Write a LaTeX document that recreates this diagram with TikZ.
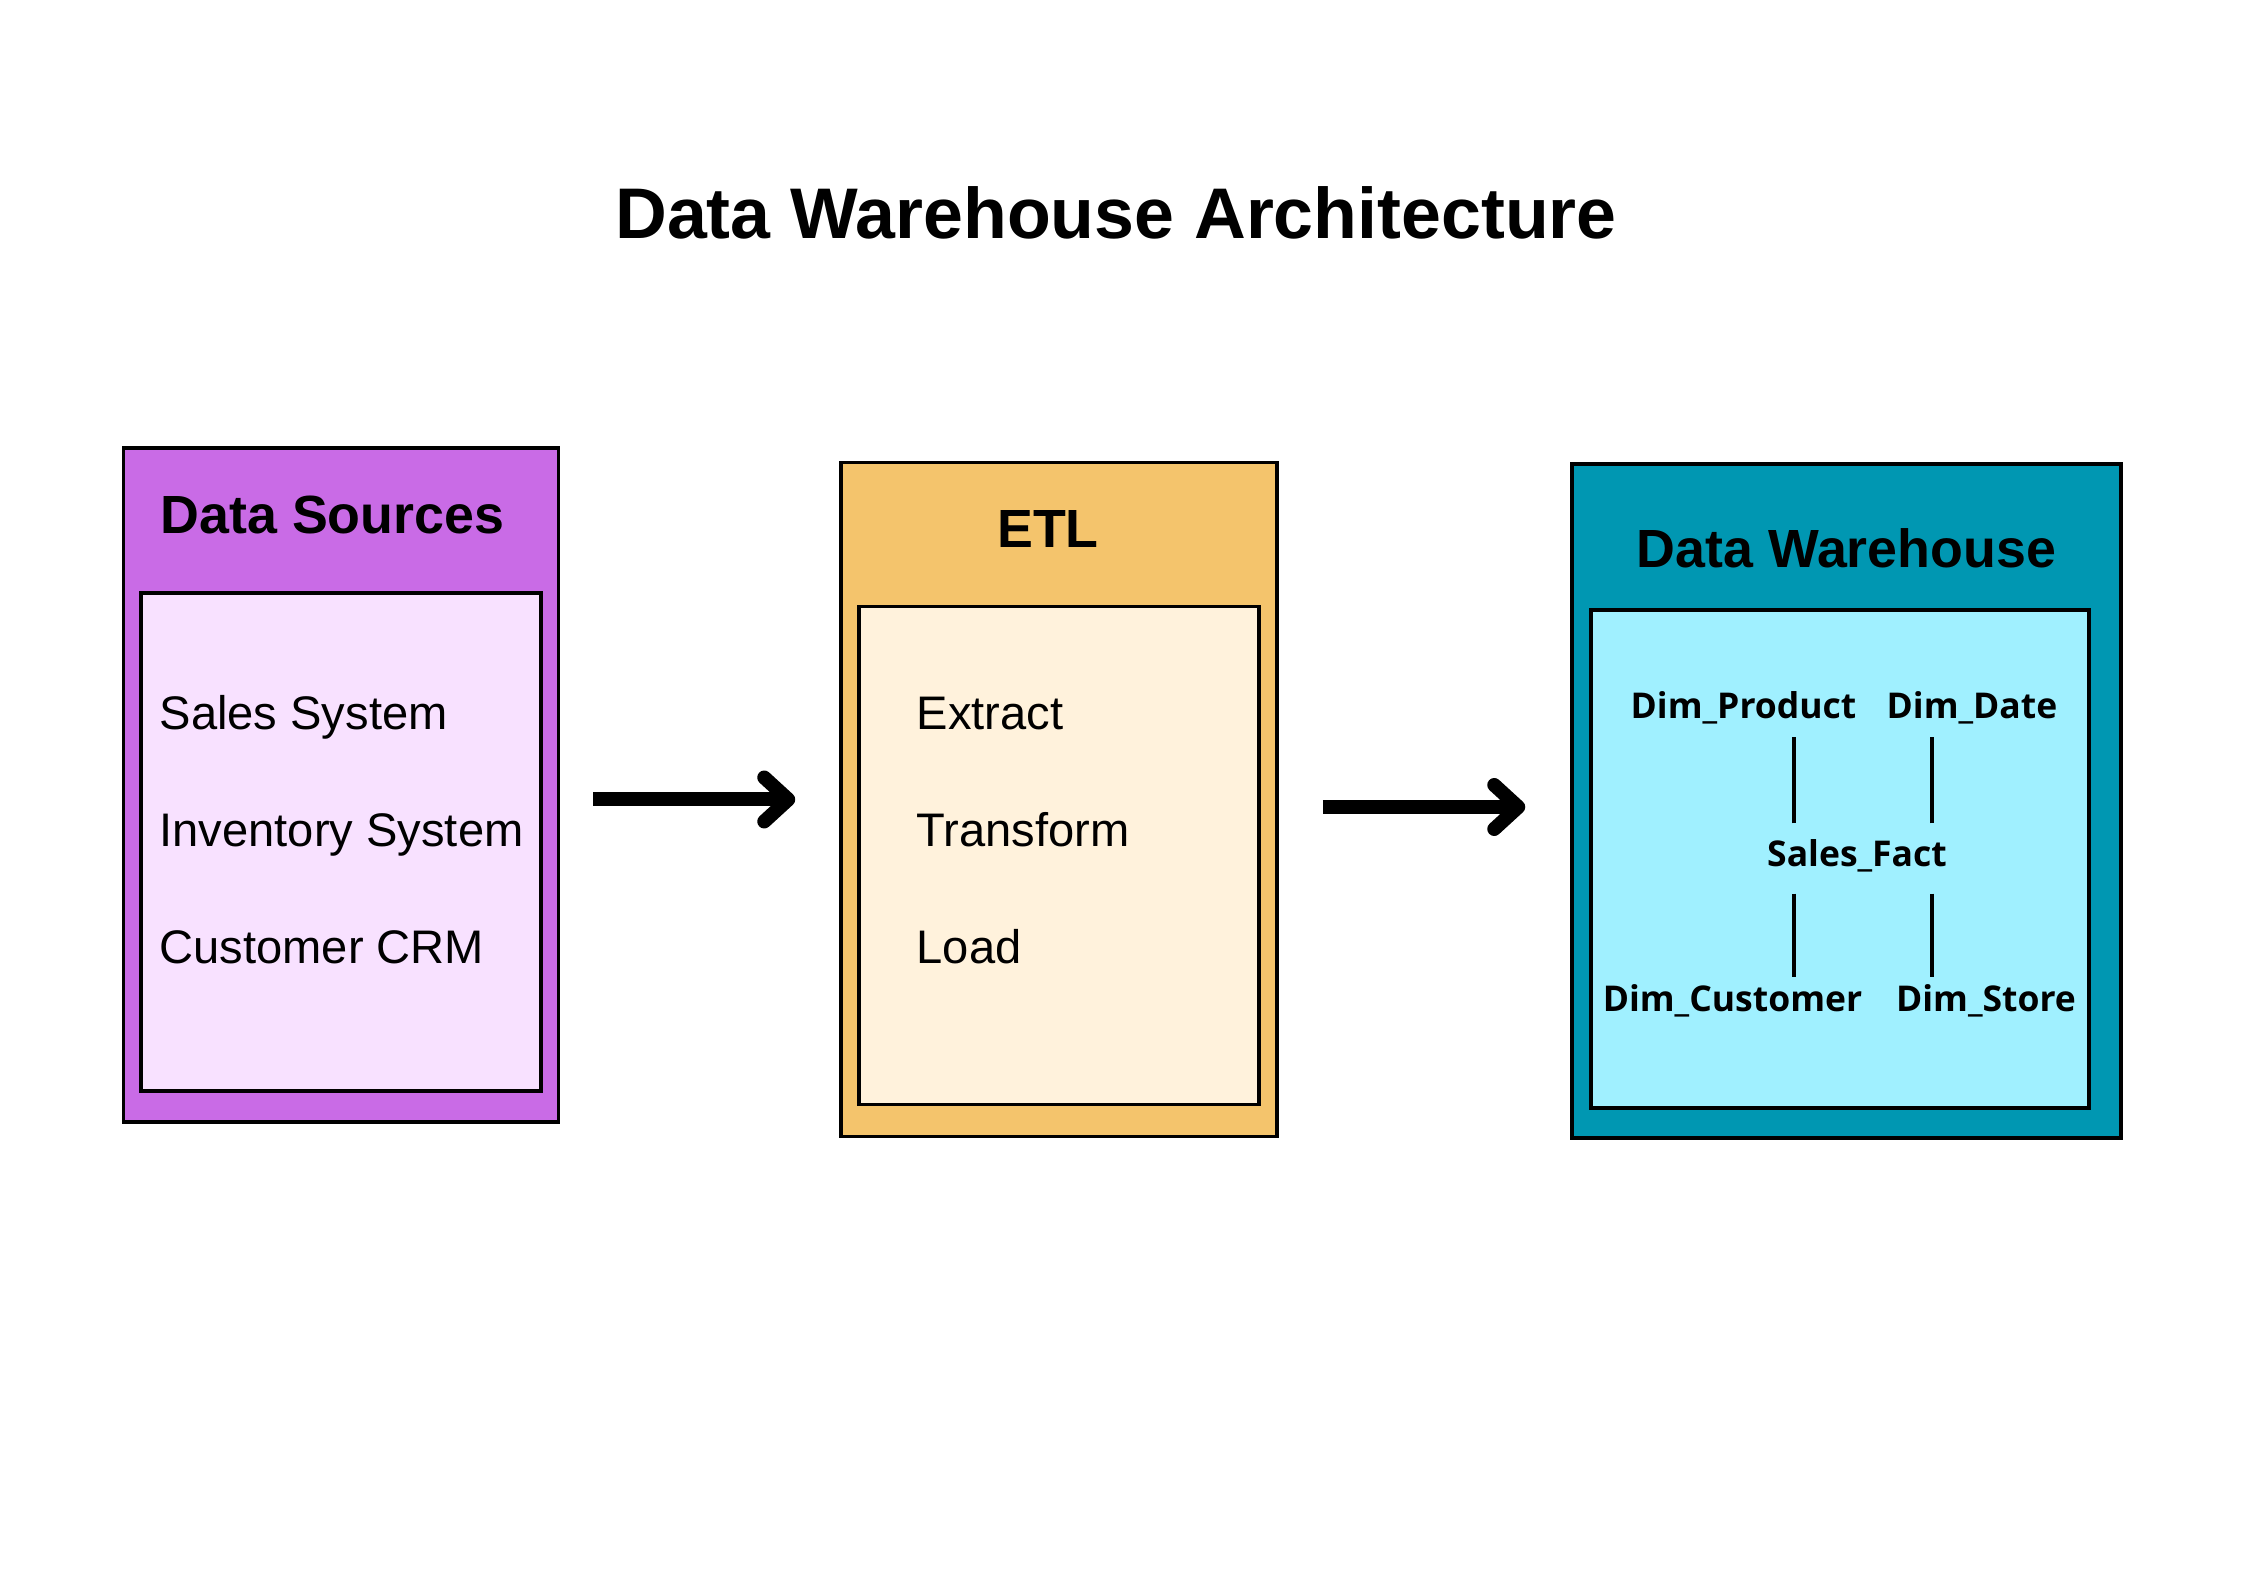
\documentclass[tikz,border=0pt]{standalone}
\usepackage{fontspec}
\setmainfont{Liberation Sans}
\newfontfamily\dimfont{Open Sans}
\usetikzlibrary{positioning,arrows.meta}

\begin{document}
\begin{tikzpicture}[
            outbox/.style={draw,line width=1pt,inner sep=0pt,minimum height=6.74cm},
            inbox/.style={draw,line width=1pt,inner sep=0pt,minimum height=4.98cm},
            head/.style={inner sep=0pt,font=\fontsize{15.3pt}{18pt}\selectfont\bfseries},
            flow/.style={line width=1.4mm,-{Straight Barb[length=2.4mm,width=4.4mm,round]}},
            link/.style={line width=1pt,shorten <=1.7mm,shorten >=0.8mm}
        ]
            \definecolor{pux}{HTML}{C96BE6}
            \definecolor{pix}{HTML}{F8E1FF}
            \definecolor{orx}{HTML}{F4C46C}
            \definecolor{crx}{HTML}{FFF2DC}
            \definecolor{tex}{HTML}{0097B2}
            \definecolor{cyx}{HTML}{A0F0FF}

            \useasboundingbox (0,0) rectangle (22.45,15.87);

            \node (title) at (11.16,13.48) [anchor=base,font=\fontsize{20.4pt}{24pt}\selectfont\bfseries] {Data Warehouse Architecture};

            \node (src) at (3.41,8.02) [outbox,minimum width=4.35cm,fill=pux] {};
            \node (etl) at (10.59,7.875) [outbox,minimum width=4.36cm,fill=orx] {};
            \node (dw)  at (18.465,7.86) [outbox,minimum width=5.49cm,fill=tex] {};

            \node (srcin) [inbox,minimum width=4cm,below=1.45cm of src.north,fill=pix] {};
            \node (etlin) [inbox,minimum width=4cm,below=1.44cm of etl.north,fill=crx] {};
            \node (dwin)  [inbox,minimum width=4.98cm,below=1.46cm of dw.north,xshift=-0.65mm,fill=cyx] {};

            \node (srch) at (1.60,10.53) [anchor=base west,head] {Data Sources};
            \node (etlh) at (10.48,10.39) [anchor=base,head] {ETL};
            \node (dwh)  at (18.465,10.19) [anchor=base,head] {Data Warehouse};

            \begin{scope}[
                every node/.style={anchor=base west,inner sep=0pt,font=\fontsize{13.4pt}{16pt}\selectfont}
            ]
                \node (s1) at (1.59,8.57) {Sales System};
                \node (s2) at (1.59,7.40) {Inventory System};
                \node (s3) at (1.59,6.23) {Customer CRM};
                \node (e1) at (9.16,8.57) {Extract};
                \node (e2) at (9.16,7.40) {Transform};
                \node (e3) at (9.16,6.23) {Load};
            \end{scope}

            \begin{scope}[
                every node/.style={anchor=base,inner sep=0pt,text height=2.6mm,text depth=0.9mm,
                    font=\dimfont\bfseries\fontsize{10.1pt}{12pt}\selectfont}
            ]
                \node (dp) at (17.435,8.68) {Dim\_Product};
                \node (dd) at (19.72,8.68)  {Dim\_Date};
                \node (sf) at (18.57,7.20)  {Sales\_Fact};
                \node (dc) at (17.325,5.75) {Dim\_Customer};
                \node (ds) at (19.86,5.75)  {Dim\_Store};
            \end{scope}
            \draw [link] ([xshift=-6.3mm]sf.north) -- ([xshift=-6.3mm]sf.north |- dp.south);
            \draw [link] ([xshift=7.5mm]sf.north)  -- ([xshift=7.5mm]sf.north |- dd.south);
            \draw [link] ([xshift=-6.3mm]sf.south) -- ([xshift=-6.3mm]sf.south |- dc.north);
            \draw [link] ([xshift=7.5mm]sf.south)  -- ([xshift=7.5mm]sf.south |- ds.north);

            \draw [flow,shorten <=3.3mm,shorten >=4.4mm] (src.east |- etl.west) -- (etl.west);
            \draw [flow,shorten <=4.4mm,shorten >=4.5mm] ([yshift=-0.6mm]dw.west -| etl.east) -- ([yshift=-0.6mm]dw.west);
        \end{tikzpicture}
\end{document}
